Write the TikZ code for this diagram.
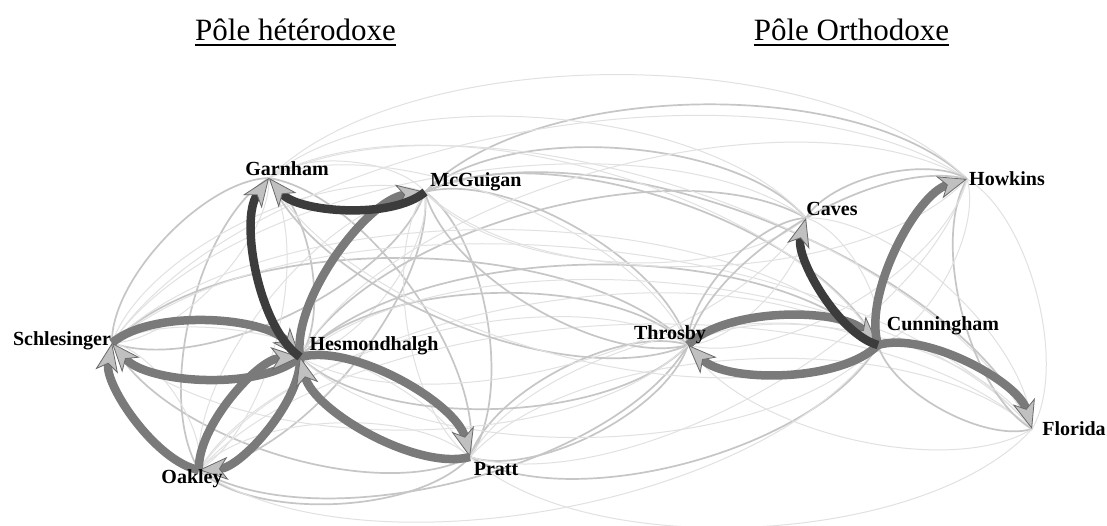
\documentclass[tikz,border=0pt]{standalone}
\usepackage{fontspec}
\setmainfont{Liberation Serif}
\usetikzlibrary{arrows.meta}
\definecolor{medg}{HTML}{7A7A7A}
\definecolor{darkg}{HTML}{3C3C3C}
\definecolor{lightA}{HTML}{C6C6C6}
\definecolor{lightB}{HTML}{E1E1E1}
\definecolor{arrowfill}{HTML}{C0C0C0}
\definecolor{arrowline}{HTML}{6A6A6A}
\tikzset{
  gc/.style={bend left=45, looseness=0.72},
  la/.style={draw=lightA, line width=1.7pt},
  lb/.style={draw=lightB, line width=1pt},
  thk/.style={draw=medg, line width=8.5pt,
    -{Stealth[length=29pt, width=23pt, inset=8pt, fill=arrowfill, color=arrowline, line width=0.8pt]}},
  thkd/.style={thk, draw=darkg},
  lab/.style={font=\fontsize{20}{24}\selectfont\bfseries, inner sep=0pt, anchor=base},
  ttl/.style={font=\fontsize{31}{36}\selectfont, inner sep=0pt, anchor=base},
}
\begin{document}
\begin{tikzpicture}[x=1pt, y=-1pt]
\fill[white] (0,0) rectangle (1107,525);
\useasboundingbox (0,0) rectangle (1107,525);

% node points
\coordinate (S) at (112,343);
\coordinate (G) at (269,178);
\coordinate (M) at (425,192);
\coordinate (H) at (300,357);
\coordinate (O) at (199,470);
\coordinate (P) at (470,457);
\coordinate (T) at (688,345);
\coordinate (C) at (878,345);
\coordinate (V) at (806,218);
\coordinate (K) at (967,179);
\coordinate (F) at (1032,429);

% light edges: left cluster
\foreach \a/\b in {S/G, M/S, G/H, O/G, G/P, M/O, M/P, P/S, P/O}
  \draw[la] (\a) to[gc] (\b);
\foreach \a/\b in {G/S, S/M, G/O, M/H, O/M, P/M, S/O, S/P, O/P, G/M}
  \draw[lb] (\a) to[gc] (\b);
% left to right
\foreach \a/\b in {M/K, M/V, H/V, M/C, H/C, M/T, H/T, S/T, P/T, M/F}
  \draw[la] (\a) to[gc] (\b);
\foreach \a/\b in {G/K, S/K, H/K, G/V, S/V, G/C, S/C, O/C, P/C, G/T, O/T, S/F, H/F, O/F, P/F, G/F}
  \draw[lb] (\a) to[gc] (\b);
% right to left
\foreach \a/\b in {T/O, T/P, C/P, T/H, T/M, T/G}
  \draw[la] (\a) to[gc] (\b);
\foreach \a/\b in {C/H, T/S, K/P, V/H, K/M, V/M, C/O, F/P, C/G}
  \draw[lb] (\a) to[gc] (\b);
% right cluster
\foreach \a/\b in {T/V, T/K, V/K, F/K, F/C}
  \draw[la] (\a) to[gc] (\b);
\foreach \a/\b in {V/T, K/F, T/F, F/T, V/C, K/C, V/F, K/T}
  \draw[lb] (\a) to[gc] (\b);

% strong edges
\draw[thk] (S) to[gc] (H);
\draw[thk] (H) to[gc] (S);
\draw[thk] (O) to[gc] (S);
\draw[thk] (O) to[gc] (H);
\draw[thk] (H) to[gc] (O);
\draw[thk] (H) to[gc] (P);
\draw[thk] (P) to[gc] (H);
\draw[thk] (H) to[gc] (M);
\draw[thkd] (H) to[gc] (G);
\draw[thkd] (M) to[gc] (G);
\draw[thk] (T) to[gc] (C);
\draw[thk] (C) to[gc] (T);
\draw[thk] (C) to[gc] (K);
\draw[thk] (C) to[gc] (F);
\draw[thkd] (C) to[gc] (V);

% labels
\node[lab] (Sl) at (62,345) {Schlesinger};
\node[lab] (Gl) at (287,175) {Garnham};
\node[lab] (Ml) at (476,186) {McGuigan};
\node[lab] (Hl) at (374,350) {Hesmondhalgh};
\node[lab] (Ol) at (192,483) {Oakley};
\node[lab] (Pl) at (496,475) {Pratt};
\node[lab] (Tl) at (670,339) {Throsby};
\node[lab] (Cl) at (943,330) {Cunningham};
\node[lab] (Vl) at (832,215) {Caves};
\node[lab] (Kl) at (1007,185) {Howkins};
\node[lab] (Fl) at (1074,435) {Florida};

% titles
\node[ttl] (t1) at (295.5,40) {Pôle hétérodoxe};
\node[ttl] (t2) at (851.5,40) {Pôle Orthodoxe};
\draw[line width=2.2pt] ([yshift=-5pt]t1.base west) -- ([yshift=-5pt]t1.base east);
\draw[line width=2.2pt] ([yshift=-5pt]t2.base west) -- ([yshift=-5pt]t2.base east);
\end{tikzpicture}
\end{document}
